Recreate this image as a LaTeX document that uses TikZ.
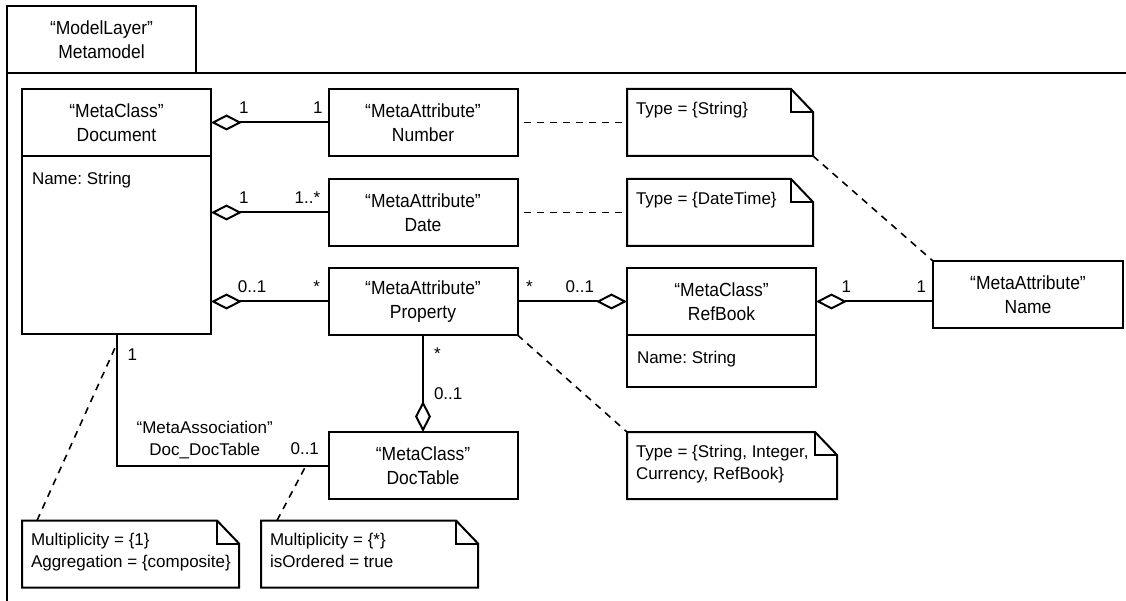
\documentclass[tikz,border=0pt]{standalone}
\usepackage{fontspec}
\setmainfont{Liberation Sans}
\newfontfamily\classfamily{Liberation Sans}[FakeStretch=0.92]
\frenchspacing
\usetikzlibrary{positioning,arrows.meta}
\newcommand{\classfont}{\classfamily\fontsize{19}{24}\selectfont}
\newcommand{\notefont}{\fontsize{17}{22}\selectfont}
\newcommand{\foldx}{22pt}
\newcommand{\foldy}{23pt}
\newcommand{\drawnote}[1]{
    \draw (#1.south west) -- (#1.north west) -- ([xshift=-\foldx]#1.north east)
        -- ([yshift=-\foldy]#1.north east) -- (#1.south east) -- cycle;
    \draw ([xshift=-\foldx]#1.north east) |- ([yshift=-\foldy]#1.north east);
}
\tikzset{
    classhead/.style={draw, minimum width=189pt, minimum height=67pt, inner sep=0pt, outer sep=0pt, align=center, font=\classfont},
    classattr/.style={draw, minimum width=189pt, inner sep=0pt, outer sep=0pt},
    attrtext/.style={anchor=north west, inner xsep=9pt, inner ysep=15pt, font=\notefont},
    notebox/.style={minimum height=67pt, inner sep=0pt, outer sep=0pt},
    notetext/.style={anchor=north west, inner xsep=8pt, inner ysep=12pt, align=left, font=\notefont},
    mult/.style={inner sep=0pt, font=\notefont},
    aggr/.style={arrows={Diamond[open,length=31pt,width=16pt]-}},
    notelink/.style={dash pattern=on 7pt off 6pt, line width=1.6pt}
}
\begin{document}
\begin{tikzpicture}[x=1pt, y=-1pt, line width=2pt]
    \useasboundingbox (0,0) rectangle (1126,601);

    \node[classhead] (layer) at (101.5,39.5) {“ModelLayer”\\Metamodel};
    \draw (layer.south west) -- (7,601);
    \draw (layer.south west) -- (1126,73);

    \node[classhead] (doc) at (116.5,122.5) {“MetaClass”\\Document};
    \node[classattr, minimum height=178pt, below=0pt of doc,
          label={[attrtext]north west:{Name: String}}] (docattr) {};
    \node[classhead] (numb) at (423,122.5) {“MetaAttribute”\\Number};
    \node[classhead] (date) at (423,212.5) {“MetaAttribute”\\Date};
    \node[classhead] (prop) at (423,301.5) {“MetaAttribute”\\Property};
    \node[classhead] (dtab) at (423,465.5) {“MetaClass”\\DocTable};
    \node[classhead] (refb) at (721.5,301.5) {“MetaClass”\\RefBook};
    \node[classattr, minimum height=52pt, below=0pt of refb,
          label={[attrtext]north west:{Name: String}}] (refbattr) {};
    \node[classhead, minimum width=190pt] (name) at (1028,294.5) {“MetaAttribute”\\Name};

    \node[notebox, minimum width=186pt, label={[notetext]north west:{Type = \{String\}}}] (typestr) at (720,122.5) {};
    \node[notebox, minimum width=186pt, label={[notetext]north west:{Type = \{DateTime\}}}] (typedate) at (720,212.5) {};
    \node[notebox, minimum width=210pt, label={[notetext]north west:{Type = \{String, Integer,\\Currency, RefBook\}}}] (typeprop) at (732,465.5) {};
    \node[notebox, minimum width=217pt, label={[notetext]north west:{Multiplicity = \{1\}\\Aggregation = \{composite\}}}] (multdoc) at (130.5,554) {};
    \node[notebox, minimum width=217pt, label={[notetext]north west:{Multiplicity = \{*\}\\isOrdered = true}}] (multtab) at (369.5,554) {};
    \foreach \n in {typestr,typedate,typeprop,multdoc,multtab} {\drawnote{\n}}

    \draw[aggr] (doc.east) -- (numb.west)
        node[mult, above=8pt, pos=0.28] {1}
        node[mult, above=8pt, pos=0.91] {1};
    \draw[aggr] (docattr.east |- date.west) -- (date.west)
        node[mult, above=8pt, pos=0.28] {1}
        node[mult, above=8pt, pos=0.82] {1..*};
    \draw[aggr] (docattr.east |- prop.west) -- (prop.west)
        node[mult, above=8pt, pos=0.35] {0..1}
        node[mult, above=8pt, pos=0.90] {*};
    \draw[aggr] (refb.west) -- (prop.east)
        node[mult, above=8pt, pos=0.43] {0..1}
        node[mult, above=8pt, pos=0.89] {*};
    \draw[aggr] (refb.east) -- (name.west |- refb.east)
        node[mult, above=8pt, pos=0.26] {1}
        node[mult, above=8pt, pos=0.90] {1};
    \draw[aggr] (dtab.north) -- (prop.south)
        node[mult, right=10pt, pos=0.40] {0..1}
        node[mult, right=10pt, pos=0.81] {*};
    \draw (docattr.south) |- (dtab.west)
        coordinate[pos=0.04] (assocdoc)
        coordinate[pos=0.947] (assoctab)
        node[mult, right=10pt, pos=0.078] {1}
        node[mult, above=10pt, pos=0.944] {0..1}
        node[mult, above=6pt, pos=0.708, align=center] (assoclabel) {“MetaAssociation”\\Doc\_DocTable};

    \draw[notelink, shorten <=6pt] (numb.east) -- (typestr.west);
    \draw[notelink, shorten <=6pt] (date.east) -- (typedate.west);
    \draw[notelink] (typestr.south east) -- (name.north west);
    \draw[notelink] (prop.south east) -- (typeprop.north west);
    \draw[notelink] ([xshift=15pt]multdoc.north west) -- (assocdoc);
    \draw[notelink] ([xshift=16pt]multtab.north west) -- (assoctab);
\end{tikzpicture}
\end{document}
